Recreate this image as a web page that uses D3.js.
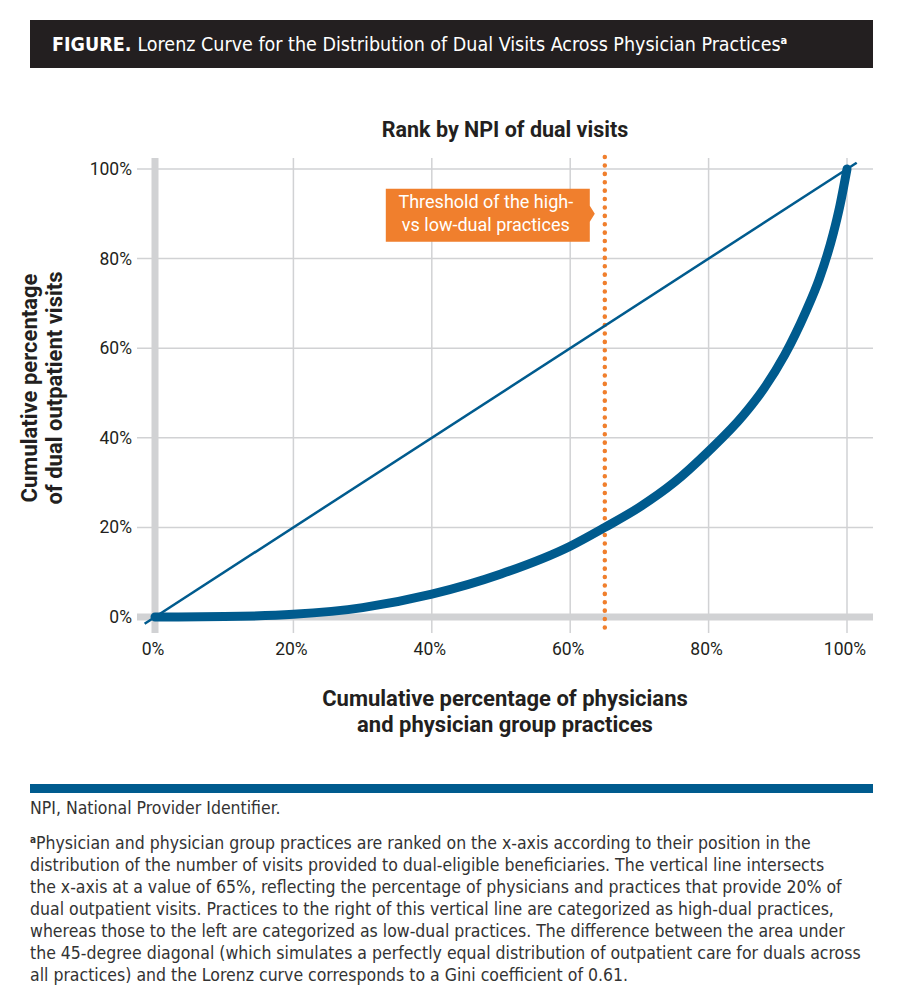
<!DOCTYPE html>
<html>
<head>
<meta charset="utf-8">
<script src="https://cdn.jsdelivr.net/npm/d3@7"></script>
<style>
  body { margin: 0; background: #fff; }
  svg { display: block; }
</style>
</head>
<body>
<div id="chart"></div>
<script>
// cumulative % of practices (x) and % of dual visits (y)
var practicePct = [0, 10, 20, 30, 40, 50, 60, 65, 70, 75, 80, 85, 88, 91, 94, 96, 98, 99, 100];
var dualVisitPct = [0, 0.1, 0.6, 2.1, 5.1, 9.6, 15.8, 20, 24.5, 30, 37, 45, 51, 58.5, 68, 75.5, 85.5, 92, 100];
var equalityPct = [-1.5, 101.4];
var thresholdPct = 65;
var xTicks = [0, 20, 40, 60, 80, 100];
var yTicks = [0, 20, 40, 60, 80, 100];
var footLines = [
  "Physician and physician group practices are ranked on the x-axis according to their position in the",
  "distribution of the number of visits provided to dual-eligible beneficiaries. The vertical line intersects",
  "the x-axis at a value of 65%, reflecting the percentage of physicians and practices that provide 20% of",
  "dual outpatient visits. Practices to the right of this vertical line are categorized as high-dual practices,",
  "whereas those to the left are categorized as low-dual practices. The difference between the area under",
  "the 45-degree diagonal (which simulates a perfectly equal distribution of outpatient care for duals across",
  "all practices) and the Lorenz curve corresponds to a Gini coefficient of 0.61."
];

var width = 897, height = 1000;
var blue = "#005b8e", orange = "#f07f2d", grid = "#d1d2d4", ink = "#231f20";
var narrow = "'Liberation Sans Narrow', 'DejaVu Sans Condensed', sans-serif";
var sans = "Roboto, 'Noto Sans', sans-serif";

var svg = d3.select("#chart").append("svg")
  .attr("width", width)
  .attr("height", height);

svg.append("rect").attr("width", width).attr("height", height).attr("fill", "#fff");

// header bar
svg.append("rect")
  .attr("x", 30).attr("y", 20).attr("width", 843).attr("height", 48)
  .attr("fill", ink);
var head = svg.append("text")
  .attr("x", 52).attr("y", 51)
  .attr("fill", "#fff")
  .style("font-family", narrow)
  .style("font-size", "19.5px");
head.append("tspan").style("font-weight", "bold").text("FIGURE. ");
head.append("tspan").text("Lorenz Curve for the Distribution of Dual Visits Across Physician Practices");
head.append("tspan").attr("dy", -7).style("font-size", "11px").style("font-weight", "bold").text("a");

var x = d3.scaleLinear().domain([0, 100]).range([155, 847]);
var y = d3.scaleLinear().domain([0, 100]).range([617, 169]);

var g = svg.append("g");

// grid
g.selectAll(null)
  .data(xTicks)
  .enter().append("line")
  .attr("x1", function(d) { return x(d); })
  .attr("x2", function(d) { return x(d); })
  .attr("y1", 158).attr("y2", 633)
  .attr("stroke", grid)
  .attr("stroke-width", function(d) { return d === 0 ? 7 : 1.5; });

g.selectAll(null)
  .data(yTicks)
  .enter().append("line")
  .attr("x1", 137).attr("x2", 873)
  .attr("y1", function(d) { return y(d); })
  .attr("y2", function(d) { return y(d); })
  .attr("stroke", grid)
  .attr("stroke-width", function(d) { return d === 0 ? 7 : 1.5; });

// tick labels
g.selectAll(null)
  .data(yTicks)
  .enter().append("text")
  .attr("x", 132)
  .attr("y", function(d) { return y(d) + 6; })
  .attr("text-anchor", "end")
  .attr("fill", ink)
  .style("font-family", sans)
  .style("font-size", "17.5px")
  .text(function(d) { return d + "%"; });

g.selectAll(null)
  .data(xTicks)
  .enter().append("text")
  .attr("x", function(d) { return x(d) - 2; })
  .attr("y", 655)
  .attr("text-anchor", "middle")
  .attr("fill", ink)
  .style("font-family", sans)
  .style("font-size", "17.5px")
  .text(function(d) { return d + "%"; });

// threshold line
g.append("line")
  .attr("x1", x(thresholdPct)).attr("x2", x(thresholdPct))
  .attr("y1", 157).attr("y2", 635)
  .attr("stroke", orange)
  .attr("stroke-width", 4.5)
  .attr("stroke-linecap", "round")
  .attr("stroke-dasharray", "0.1 8.3");

// equality diagonal
var line = d3.line()
  .x(function(d) { return x(d[0]); })
  .y(function(d) { return y(d[1]); });

g.append("path")
  .attr("d", line(equalityPct.map(function(d) { return [d, d]; })))
  .attr("fill", "none")
  .attr("stroke", blue)
  .attr("stroke-width", 2.5);

// lorenz curve
g.append("path")
  .attr("d", line.curve(d3.curveMonotoneX)(practicePct.map(function(d, i) { return [d, dualVisitPct[i]]; })))
  .attr("fill", "none")
  .attr("stroke", blue)
  .attr("stroke-width", 9)
  .attr("stroke-linecap", "round");

// callout
var tipX = x(thresholdPct) - 10, tipY = y(90);
g.append("path")
  .attr("d", "M" + (tipX - 209) + "," + (tipY - 25) +
             "H" + (tipX - 5) + "V" + (tipY - 8) + "L" + tipX + "," + tipY +
             "L" + (tipX - 5) + "," + (tipY + 8) + "V" + (tipY + 28) +
             "H" + (tipX - 209) + "Z")
  .attr("fill", orange);

g.selectAll(null)
  .data(["Threshold of the high-", "vs low-dual practices"])
  .enter().append("text")
  .attr("x", tipX - 109)
  .attr("y", function(d, i) { return tipY - 6 + i * 23; })
  .attr("text-anchor", "middle")
  .attr("fill", "#fff")
  .style("font-family", sans)
  .style("font-size", "18px")
  .text(function(d) { return d; });

// titles
svg.append("text")
  .attr("x", 505).attr("y", 137)
  .attr("text-anchor", "middle")
  .attr("fill", ink)
  .style("font-family", sans)
  .style("font-weight", "bold")
  .style("font-size", "21.5px")
  .text("Rank by NPI of dual visits");

svg.selectAll(null)
  .data(["Cumulative percentage of physicians", "and physician group practices"])
  .enter().append("text")
  .attr("x", 505)
  .attr("y", function(d, i) { return 706 + i * 26; })
  .attr("text-anchor", "middle")
  .attr("fill", ink)
  .style("font-family", sans)
  .style("font-weight", "bold")
  .style("font-size", "22px")
  .text(function(d) { return d; });

svg.selectAll(null)
  .data(["Cumulative percentage", "of dual outpatient visits"])
  .enter().append("text")
  .attr("transform", function(d, i) { return "translate(" + (37 + i * 25) + ",388) rotate(-90)"; })
  .attr("text-anchor", "middle")
  .attr("fill", ink)
  .style("font-family", sans)
  .style("font-weight", "bold")
  .style("font-size", "22px")
  .text(function(d) { return d; });

// footnotes
svg.append("rect")
  .attr("x", 30).attr("y", 784).attr("width", 843).attr("height", 9)
  .attr("fill", blue);

svg.append("text")
  .attr("x", 30).attr("y", 814)
  .attr("fill", "#333")
  .style("font-family", narrow)
  .style("font-size", "17.5px")
  .text("NPI, National Provider Identifier.");

var foot = svg.selectAll(null)
  .data(footLines)
  .enter().append("text")
  .attr("x", 30)
  .attr("y", function(d, i) { return 849 + i * 22; })
  .attr("fill", "#333")
  .style("font-family", narrow)
  .style("font-size", "17.5px");

foot.filter(function(d, i) { return i === 0; })
  .append("tspan").attr("dy", -6).style("font-size", "10px").style("font-weight", "bold").text("a");
foot.append("tspan")
  .attr("dy", function(d, i) { return i === 0 ? 6 : 0; })
  .text(function(d) { return d; });
</script>
</body>
</html>
